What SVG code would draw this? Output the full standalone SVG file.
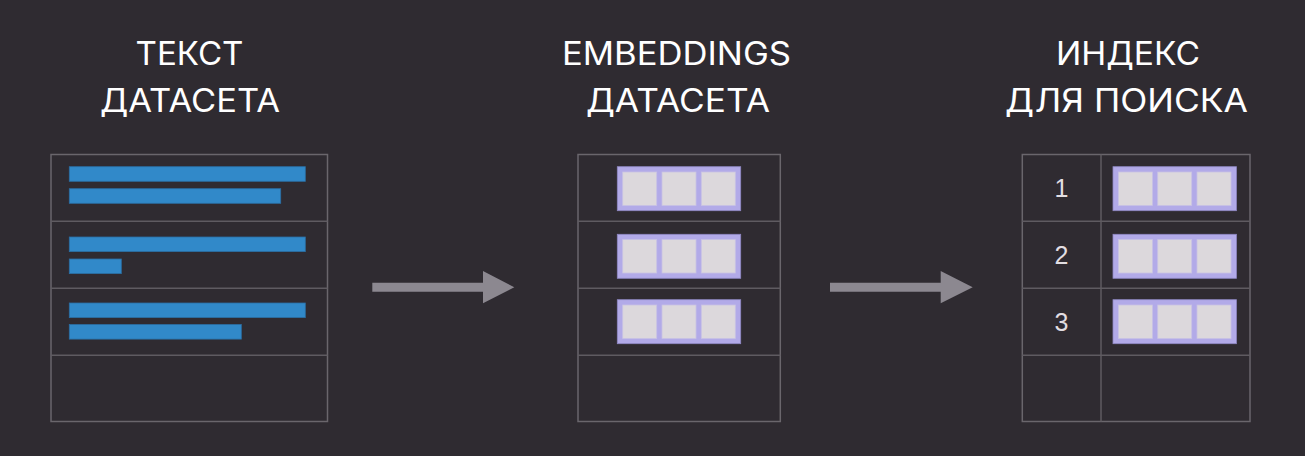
<svg xmlns="http://www.w3.org/2000/svg" width="1305" height="456" viewBox="0 0 1305 456">
  <style>
    .title { font-family: "Inter", "Liberation Sans", sans-serif; font-size: 32px; font-weight: 400; fill: #ffffff; text-anchor: middle; }
    .frame { fill: none; stroke: #6a666c; stroke-width: 1.5; }
    .div { stroke: #5f5b61; stroke-width: 1.5; }
    .bar { fill: #3189c9; stroke: #2b6ea3; stroke-width: 0.8; }
    .num { font-family: "Liberation Sans", "Arial", sans-serif; font-size: 25px; fill: #e2dee2; text-anchor: middle; }
    .arrow { fill: #8c8890; }
  </style>
  <defs>
    <g id="emb">
      <rect x="0" y="0" width="123.4" height="44" fill="#b2aae8" stroke="#8f88c4" stroke-width="0.8"/>
      <rect x="5.4" y="5.3" width="34" height="33.4" fill="#dcd8dc" stroke="#c8c2e4" stroke-width="0.8"/>
      <rect x="44.7" y="5.3" width="34" height="33.4" fill="#dcd8dc" stroke="#c8c2e4" stroke-width="0.8"/>
      <rect x="84" y="5.3" width="34" height="33.4" fill="#dcd8dc" stroke="#c8c2e4" stroke-width="0.8"/>
    </g>
  </defs>
  <rect x="0" y="0" width="1305" height="456" fill="#2f2b31"/>

  <g id="title-text">
    <text class="title" x="189.5" y="65" textLength="108" lengthAdjust="spacingAndGlyphs">ТЕКСТ</text>
    <text class="title" x="190" y="112" textLength="180" lengthAdjust="spacingAndGlyphs">ДАТАСЕТА</text>
  </g>
  <g id="title-embeddings">
    <text class="title" x="676.5" y="65" textLength="229" lengthAdjust="spacingAndGlyphs">EMBEDDINGS</text>
    <text class="title" x="678" y="112" textLength="184" lengthAdjust="spacingAndGlyphs">ДАТАСЕТА</text>
  </g>
  <g id="title-index">
    <text class="title" x="1128" y="65" textLength="144" lengthAdjust="spacingAndGlyphs">ИНДЕКС</text>
    <text class="title" x="1126.5" y="112" textLength="243" lengthAdjust="spacingAndGlyphs">ДЛЯ ПОИСКА</text>
  </g>

  <g id="node-text-dataset">
    <rect class="frame" x="51" y="154.5" width="276.5" height="267"/>
    <line class="div" x1="51" y1="221.3" x2="327.5" y2="221.3"/>
    <line class="div" x1="51" y1="288.3" x2="327.5" y2="288.3"/>
    <line class="div" x1="51" y1="355.3" x2="327.5" y2="355.3"/>
    <rect class="bar" x="69.3" y="166.7" width="236" height="14.6"/>
    <rect class="bar" x="69.3" y="188.7" width="211.4" height="14.6"/>
    <rect class="bar" x="69.3" y="237" width="236" height="14.6"/>
    <rect class="bar" x="69.3" y="259" width="52" height="14.6"/>
    <rect class="bar" x="69.3" y="303" width="236" height="14.6"/>
    <rect class="bar" x="69.3" y="324.5" width="172" height="14.6"/>
  </g>

  <g id="node-embeddings-dataset">
    <rect class="frame" x="578" y="154.5" width="202.3" height="267"/>
    <line class="div" x1="578" y1="221.3" x2="780.3" y2="221.3"/>
    <line class="div" x1="578" y1="288.3" x2="780.3" y2="288.3"/>
    <line class="div" x1="578" y1="355.3" x2="780.3" y2="355.3"/>
    <use href="#emb" x="617.3" y="166.7"/>
    <use href="#emb" x="617.3" y="234.3"/>
    <use href="#emb" x="617.3" y="299.7"/>
  </g>

  <g id="node-search-index">
    <rect class="frame" x="1022.3" y="154.5" width="227.7" height="267"/>
    <line class="div" x1="1022.3" y1="221.3" x2="1250" y2="221.3"/>
    <line class="div" x1="1022.3" y1="288.3" x2="1250" y2="288.3"/>
    <line class="div" x1="1022.3" y1="355.3" x2="1250" y2="355.3"/>
    <line class="div" x1="1101" y1="154.5" x2="1101" y2="421.5"/>
    <text class="num" x="1061.5" y="196.5">1</text>
    <text class="num" x="1061.5" y="263.5">2</text>
    <text class="num" x="1061.5" y="330.5">3</text>
    <use href="#emb" x="1113" y="166.7"/>
    <use href="#emb" x="1113" y="234.3"/>
    <use href="#emb" x="1113" y="299.7"/>
  </g>

  <g id="connectors">
    <polygon class="arrow" points="372.3,282.7 483,282.7 483,271 514.3,287.2 483,303.3 483,291.7 372.3,291.7"/>
    <polygon class="arrow" points="830,282.7 940.7,282.7 940.7,271 972.7,287.2 940.7,303.3 940.7,291.7 830,291.7"/>
  </g>
</svg>
